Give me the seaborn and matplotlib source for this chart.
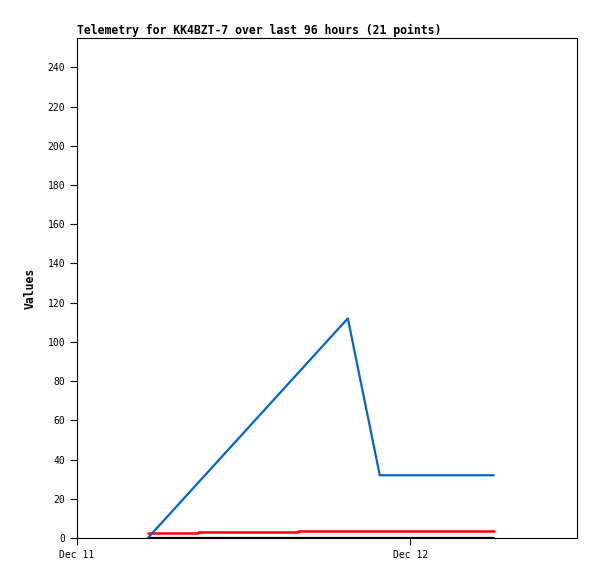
import matplotlib
matplotlib.use("Agg")
import matplotlib.pyplot as plt
import matplotlib.dates as mdates
import pandas as pd
import seaborn as sns

# Series (hours after Dec 11 00:00)
blue_hours = [5.1, 19.5, 21.8, 30.0]
blue_values = [0, 112, 32, 32]

red_hours = [5.1, 8.7, 15.9, 30.0]
red_values = [2.7, 3.1, 3.6, 3.8]

black_hours = [5.1, 30.0]
black_values = [0, 0]

start = pd.Timestamp("2023-12-11 00:00")


def to_df(hours, values):
    return pd.DataFrame({"time": [start + pd.Timedelta(hours=h) for h in hours],
                         "value": values})


sns.set_style("white")
plt.rcParams["font.family"] = ["DejaVu Sans Mono"]
plt.rcParams["text.color"] = "black"

fig = plt.figure(figsize=(5.97, 5.79), dpi=100)
ax = fig.add_axes([77 / 597, 1 - 538 / 579, 500 / 597, 500 / 579])

sns.lineplot(x="time", y="value", data=to_df(black_hours, black_values), ax=ax,
             color="black", linewidth=1.6)
sns.lineplot(x="time", y="value", data=to_df(red_hours, red_values), ax=ax,
             color="#ff0000", linewidth=1.8, drawstyle="steps-post")
sns.lineplot(x="time", y="value", data=to_df(blue_hours, blue_values), ax=ax,
             color="#0066cc", linewidth=1.6)

ax.set_xlim(start, start + pd.Timedelta(hours=36))
ax.set_ylim(0, 255)
ax.set_yticks(range(0, 241, 20))
ax.xaxis.set_major_locator(mdates.DayLocator())
ax.xaxis.set_major_formatter(mdates.DateFormatter("%b %d"))

for s in ax.spines.values():
    s.set_color("black")
    s.set_linewidth(0.8)
ax.tick_params(axis="both", which="both", direction="out", length=5, width=0.8,
               color="black", labelsize=7, labelcolor="black", left=True, bottom=True)

ax.set_xlabel("")
ax.set_ylabel("Values", fontsize=8.3, fontweight="bold", labelpad=8, color="black")
ax.set_title("Telemetry for KK4BZT-7 over last 96 hours (21 points)",
             fontsize=8.3, fontweight="bold", loc="left", pad=3, color="black")

fig.savefig("out.png", dpi=100)
